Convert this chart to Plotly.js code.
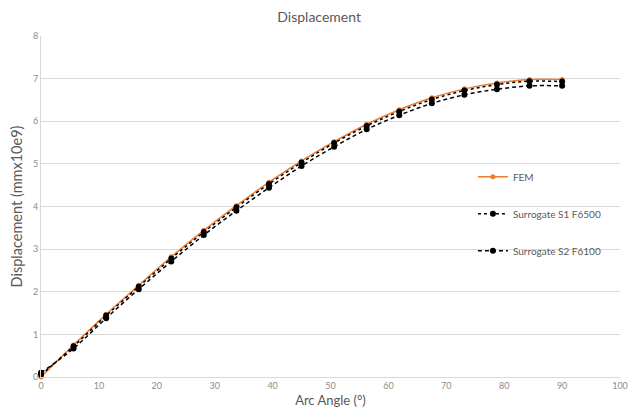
<!DOCTYPE html>
<html>
<head>
<meta charset="utf-8">
<script src="https://cdn.plot.ly/plotly-3.0.1.min.js"></script>
<style>html,body{margin:0;padding:0;background:#fff;}#chart{width:632px;height:414px;}</style>
</head>
<body>
<div id="chart"></div>
<script>
var arcAngle = [0, 5.625, 11.25, 16.875, 22.5, 28.125, 33.75, 39.375, 45, 50.625, 56.25, 61.875, 67.5, 73.125, 78.75, 84.375, 90];
var femValues = [0.0, 0.75, 1.47, 2.15, 2.82, 3.44, 4.02, 4.57, 5.07, 5.52, 5.93, 6.27, 6.55, 6.76, 6.90, 6.98, 6.98];
var s1Values = [0.05, 0.72, 1.44, 2.12, 2.78, 3.40, 3.98, 4.53, 5.03, 5.49, 5.89, 6.23, 6.51, 6.72, 6.86, 6.94, 6.93];
var s2Values = [0.10, 0.67, 1.38, 2.06, 2.71, 3.33, 3.90, 4.44, 4.95, 5.40, 5.81, 6.14, 6.42, 6.62, 6.75, 6.83, 6.83];
var seriesNames = ["FEM", "Surrogate S1 F6500", "Surrogate S2 F6100"];
var xTicks = [0, 10, 20, 30, 40, 50, 60, 70, 80, 90, 100];
var yTicks = [0, 1, 2, 3, 4, 5, 6, 7, 8];

var font = "Lato, 'Open Sans', sans-serif";
var traces = [
  {x: arcAngle, y: femValues, name: seriesNames[0], legendgroup: "a", mode: "lines+markers",
   line: {color: "#ED7D31", width: 1.5, shape: "spline"}, marker: {color: "#ED7D31", size: 5}, cliponaxis: false},
  {x: arcAngle, y: s1Values, name: seriesNames[1], legendgroup: "b", mode: "lines+markers",
   line: {color: "#000000", width: 1.5, dash: "dot", shape: "spline"}, marker: {color: "#000000", size: 6}, cliponaxis: false},
  {x: arcAngle, y: s2Values, name: seriesNames[2], legendgroup: "c", mode: "lines+markers",
   line: {color: "#000000", width: 1.5, dash: "4px,3px", shape: "spline"}, marker: {color: "#000000", size: 6}, cliponaxis: false}
];
var layout = {
  width: 632, height: 414,
  margin: {l: 41, r: 12, t: 36, b: 37},
  paper_bgcolor: "#ffffff", plot_bgcolor: "#ffffff",
  font: {family: font, color: "#595959"},
  title: {text: "Displacement", font: {family: font, size: 14, color: "#595959"}, x: 0.505, xanchor: "center", y: 0.958, yanchor: "middle"},
  xaxis: {range: [0, 100], tickvals: xTicks, ticktext: xTicks.map(String), showgrid: false, zeroline: false,
    showline: true, linecolor: "#D9D9D9", linewidth: 1, ticks: "", tickfont: {size: 9, color: "#8c8c8c"},
    title: {text: "Arc Angle (°)", font: {size: 13, color: "#595959"}, standoff: 6}},
  yaxis: {range: [0, 8], tickvals: yTicks, ticktext: yTicks.map(String), showgrid: true, gridcolor: "#D9D9D9", zeroline: false,
    showline: true, linecolor: "#D9D9D9", linewidth: 1, ticks: "", tickfont: {size: 9, color: "#8c8c8c"},
    title: {text: "Displacement (mmx10e9)", font: {size: 14.5, color: "#595959"}, standoff: 6}},
  legend: {x: 0.746, y: 0.63, xanchor: "left", yanchor: "top", bgcolor: "rgba(0,0,0,0)", traceorder: "grouped",
    tracegroupgap: 18, font: {size: 10, color: "#595959"}, itemwidth: 30},
  showlegend: true
};
Plotly.newPlot("chart", traces, layout, {displayModeBar: false, staticPlot: true});
</script>
</body>
</html>
